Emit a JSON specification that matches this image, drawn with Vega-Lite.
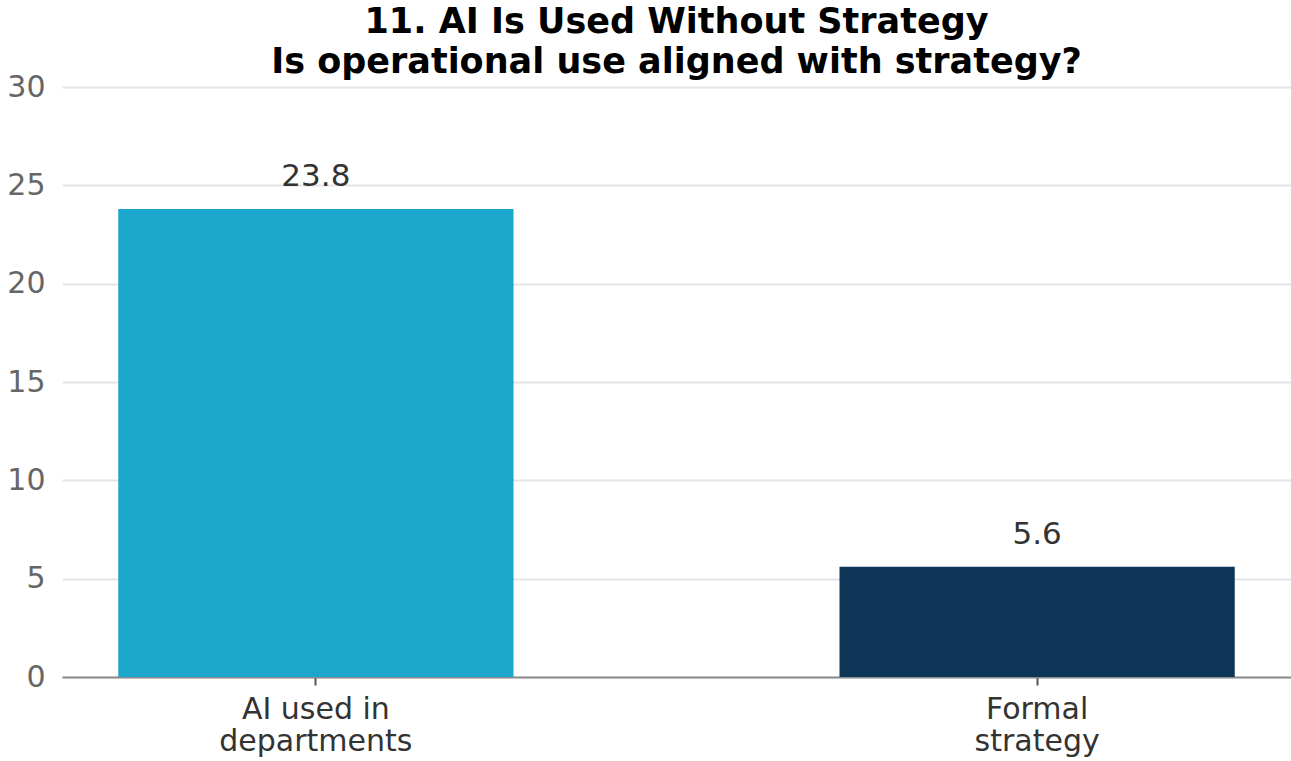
{
  "$schema": "https://vega.github.io/schema/vega-lite/v6.json",
  "autosize": "none",
  "width": 1229,
  "height": 590,
  "padding": {"left": 62, "top": 87, "right": 0, "bottom": 84},
  "background": "white",
  "config": {"view": {"stroke": null}},
  "title": {
    "text": ["11. AI Is Used Without Strategy", "Is operational use aligned with strategy?"],
    "font": "DejaVu Sans",
    "fontSize": 35,
    "fontWeight": "bold",
    "color": "#000000",
    "anchor": "middle",
    "frame": "group",
    "lineHeight": 40,
    "offset": -8
  },
  "data": {
    "values": [
      {"category": "AI used in\ndepartments", "value": 23.8, "label": "23.8"},
      {"category": "Formal\nstrategy", "value": 5.6, "label": "5.6"}
    ]
  },
  "encoding": {
    "x": {
      "field": "category",
      "type": "nominal",
      "sort": null,
      "scale": {"paddingInner": 0.452, "paddingOuter": 0.078},
      "axis": {
        "title": null,
        "labelAngle": 0,
        "labelExpr": "split(datum.label, '\\n')",
        "labelFont": "DejaVu Sans",
        "labelFontSize": 30,
        "labelColor": "#333333",
        "labelLineHeight": 32,
        "labelLimit": 0,
        "labelPadding": 9,
        "tickSize": 8,
        "tickColor": "#555555",
        "tickWidth": 2,
        "domainColor": "#8c8c8c",
        "domainWidth": 2,
        "grid": false
      }
    }
  },
  "layer": [
    {
      "mark": {"type": "bar"},
      "encoding": {
        "y": {
          "field": "value",
          "type": "quantitative",
          "scale": {"domain": [0, 30], "nice": false},
          "axis": {
            "title": null,
            "values": [0, 5, 10, 15, 20, 25, 30],
            "domain": false,
            "ticks": false,
            "labelFont": "DejaVu Sans",
            "labelFontSize": 30,
            "labelColor": "#666666",
            "labelPadding": 17,
            "gridColor": "#e4e4ea",
            "gridWidth": 2
          }
        },
        "color": {
          "field": "category",
          "type": "nominal",
          "sort": null,
          "scale": {"range": ["#1ba7cb", "#0c3557"]},
          "legend": null
        }
      }
    },
    {
      "mark": {
        "type": "text",
        "baseline": "alphabetic",
        "dy": -23,
        "font": "DejaVu Sans",
        "fontSize": 31,
        "color": "#333333"
      },
      "encoding": {
        "y": {"field": "value", "type": "quantitative"},
        "text": {"field": "label"}
      }
    }
  ]
}
